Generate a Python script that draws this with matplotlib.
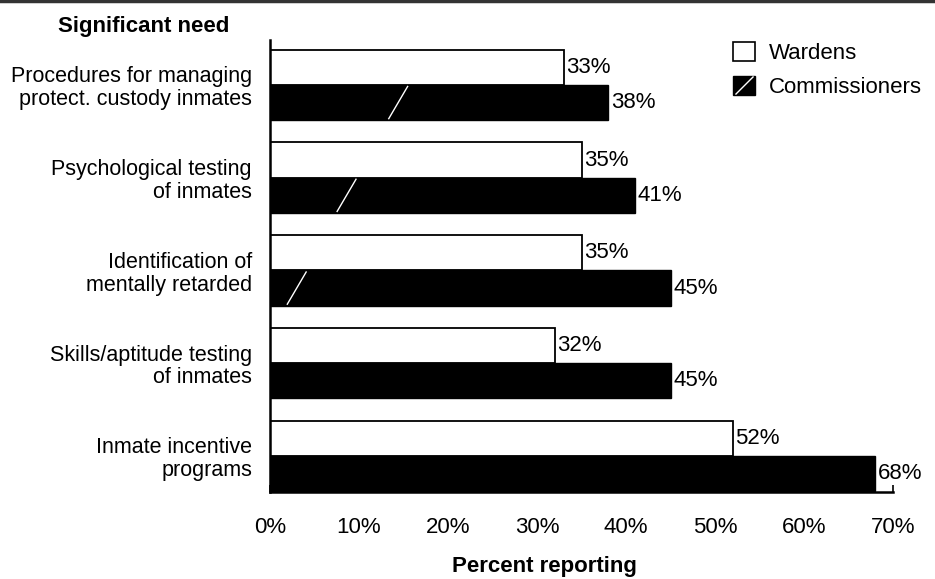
import matplotlib.pyplot as plt
from matplotlib.lines import Line2D
from matplotlib.patches import Patch
from matplotlib.path import Path
from matplotlib.legend_handler import HandlerTuple

plt.rcParams['font.family'] = ['Liberation Sans', 'DejaVu Sans']

needs = [
    "Procedures for managing\nprotect. custody inmates",
    "Psychological testing\nof inmates",
    "Identification of\nmentally retarded",
    "Skills/aptitude testing\nof inmates",
    "Inmate incentive\nprograms",
]
wardens = [33, 35, 35, 32, 52]
commissioners = [38, 41, 45, 45, 68]
xticks = [0, 10, 20, 30, 40, 50, 60, 70]

FS = 16

fig = plt.figure(figsize=(9.35, 5.79), dpi=100)
ax = fig.add_axes([0.2888, 0.1503, 0.6663, 0.7807])

h = 0.38
pos = list(range(len(needs)))
ax.barh([p - h / 2 for p in pos], wardens, height=h, color="white",
        edgecolor="black", linewidth=1.3)
ax.barh([p + h / 2 for p in pos], commissioners, height=h, color="black",
        edgecolor="black", linewidth=1.0)

# value labels
for p, w, c in zip(pos, wardens, commissioners):
    ax.text(w + 0.3, p - h / 2, f"{w}%", va="center", ha="left", fontsize=FS)
    ax.text(c + 0.3, p + h / 2, f"{c}%", va="center", ha="left", fontsize=FS)

# thin white slash through the dark bars
for p, x0 in zip(pos[:3], [13.3, 7.5, 1.9]):
    ax.plot([x0, x0 + 2.2], [p + h - 0.01, p + 0.01], color="white", lw=1.0,
            solid_capstyle="butt")

ax.set_xlim(0, 70)
ax.set_ylim(4.388, -0.485)
ax.set_xticks(xticks)
ax.set_xticklabels([f"{t}%" for t in xticks], fontsize=FS)
ax.set_yticks(pos)
ax.set_yticklabels(needs, fontsize=15.5, linespacing=1.1)
ax.tick_params(axis="y", length=0, pad=13)
ax.tick_params(axis="x", direction="in", length=5, width=1.2, pad=18)
for s in ["top", "right"]:
    ax.spines[s].set_visible(False)
for s in ["left", "bottom"]:
    ax.spines[s].set_linewidth(1.8)

ax.set_xlabel("Percent reporting", fontsize=FS, fontweight="bold")
ax.xaxis.set_label_coords(0.441, -0.142)
fig.text(0.154, 0.955, "Significant need", fontsize=FS, fontweight="bold",
         ha="center", va="center")

# legend: open box for wardens, black box with a slash for commissioners
slash = Path([(-1, -1), (1, 1)], [Path.MOVETO, Path.LINETO])
h_w = Patch(facecolor="white", edgecolor="black", linewidth=1.2)
h_c = (Patch(facecolor="black", edgecolor="black"),
       Line2D([], [], ls="none", marker=slash, markersize=13,
              markeredgecolor="white", markeredgewidth=1.0))
ax.legend([h_w, h_c], ["Wardens", "Commissioners"], loc="upper left",
          bbox_to_anchor=(0.743, 0.996), frameon=False, fontsize=FS,
          handlelength=1.0, handleheight=0.95, handletextpad=0.6,
          labelspacing=0.55, borderaxespad=0, borderpad=0,
          handler_map={tuple: HandlerTuple(ndivide=1)})

fig.add_artist(Line2D([0.0, 1.0], [0.998, 0.998], color="0.2", lw=2.5))

fig.savefig("out.png", dpi=100)
